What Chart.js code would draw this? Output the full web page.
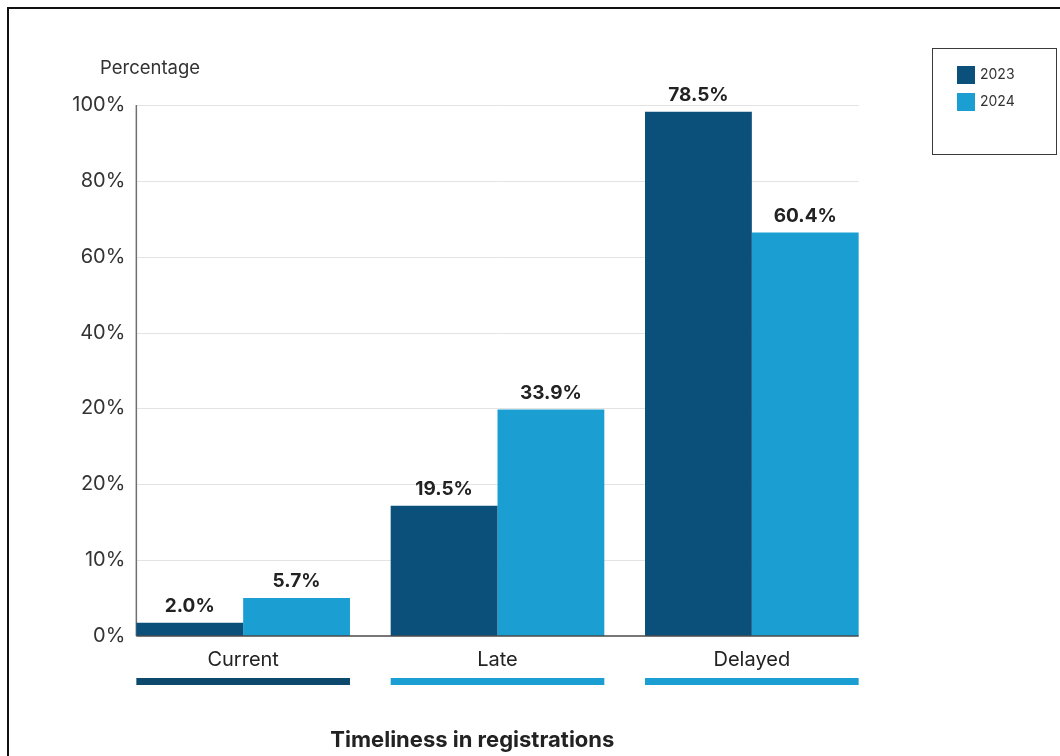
<!DOCTYPE html>
<html>
<head>
<meta charset="utf-8">
<title>Timeliness in registrations</title>
<script src="https://cdn.jsdelivr.net/npm/chart.js@4.4.1/dist/chart.umd.min.js"></script>
<style>
  html, body { margin: 0; padding: 0; background: #ffffff; }
  #wrap { width: 1060px; height: 756px; position: relative; }
  canvas { display: block; }
</style>
</head>
<body>
<div id="wrap"><canvas id="chart" width="1060" height="756"></canvas></div>
<script>
// ---- data ----
const categories = ['Current', 'Late', 'Delayed'];
const seriesNames = ['2023', '2024'];
const values2023 = [2.0, 19.5, 78.5];
const values2024 = [5.7, 33.9, 60.4];
const tickLabels = ['0%', '10%', '20%', '20%', '40%', '60%', '80%', '100%'];
const yAxisTitle = 'Percentage';
const xAxisTitle = 'Timeliness in registrations';

// ---- styling ----
const FONT = 'Inter, "Noto Sans", "DejaVu Sans", sans-serif';
const DARK = '#0b4f7b';
const LIGHT = '#1b9fd3';
const UNDERLINE_COLORS = ['#0d486d', LIGHT, LIGHT];
const Y_MAX = 79.5;

Chart.defaults.font.family = FONT;

// left edge of the first bar and right edge of the last bar in a category
function groupExtent(chart, index) {
  const first = chart.getDatasetMeta(0).data[index];
  const last = chart.getDatasetMeta(chart.data.datasets.length - 1).data[index];
  return [first.x - first.width / 2, last.x + last.width / 2];
}

const decorations = {
  id: 'decorations',
  beforeDraw(chart) {
    const ctx = chart.ctx;
    ctx.save();
    ctx.fillStyle = '#ffffff';
    ctx.fillRect(0, 0, chart.width, chart.height);
    // page frame
    ctx.strokeStyle = '#111111';
    ctx.lineWidth = 2;
    ctx.beginPath();
    ctx.moveTo(8, chart.height);
    ctx.lineTo(8, 8);
    ctx.lineTo(chart.width, 8);
    ctx.stroke();
    ctx.restore();
  },
  beforeDatasetsDraw(chart) {
    const ctx = chart.ctx;
    const y = chart.scales.y;
    const left = groupExtent(chart, 0)[0];
    const right = groupExtent(chart, categories.length - 1)[1];
    ctx.save();
    // horizontal grid lines
    ctx.strokeStyle = '#e3e3e3';
    ctx.lineWidth = 1;
    y.ticks.forEach(t => {
      if (t.value === 0) return;
      const py = Math.round(y.getPixelForValue(t.value)) + 0.5;
      ctx.beginPath();
      ctx.moveTo(left, py);
      ctx.lineTo(right, py);
      ctx.stroke();
    });
    // vertical axis line
    ctx.strokeStyle = '#707070';
    ctx.lineWidth = 1.5;
    ctx.beginPath();
    ctx.moveTo(left, y.getPixelForValue(Y_MAX));
    ctx.lineTo(left, y.getPixelForValue(0));
    ctx.stroke();
    // tick labels, right-aligned next to the axis line
    ctx.fillStyle = '#333333';
    ctx.font = '20px ' + FONT;
    ctx.textAlign = 'right';
    ctx.textBaseline = 'middle';
    y.ticks.forEach((t, i) => {
      ctx.fillText(tickLabels[i], left - 11, y.getPixelForValue(t.value));
    });
    ctx.restore();
  },
  afterDatasetsDraw(chart) {
    const ctx = chart.ctx;
    const area = chart.chartArea;
    const y = chart.scales.y;
    const left = groupExtent(chart, 0)[0];
    const right = groupExtent(chart, categories.length - 1)[1];
    ctx.save();

    // baseline
    ctx.strokeStyle = '#4a4a4a';
    ctx.lineWidth = 1.5;
    ctx.beginPath();
    ctx.moveTo(left, y.getPixelForValue(0));
    ctx.lineTo(right, y.getPixelForValue(0));
    ctx.stroke();

    // value labels above bars
    ctx.fillStyle = '#222222';
    ctx.font = 'bold 19px ' + FONT;
    ctx.textAlign = 'center';
    ctx.textBaseline = 'alphabetic';
    chart.data.datasets.forEach((ds, di) => {
      chart.getDatasetMeta(di).data.forEach((bar, i) => {
        ctx.fillText(ds.data[i].toFixed(1) + '%', bar.x, bar.y - 11);
      });
    });

    // coloured strips under category labels
    categories.forEach((c, i) => {
      const [l, r] = groupExtent(chart, i);
      ctx.fillStyle = UNDERLINE_COLORS[i];
      ctx.fillRect(l, area.bottom + 42, r - l, 7);
    });

    // x axis caption
    ctx.fillStyle = '#222222';
    ctx.font = 'bold 22px ' + FONT;
    ctx.textAlign = 'left';
    ctx.textBaseline = 'middle';
    ctx.fillText(xAxisTitle, left + 194, area.bottom + 104);

    // y axis caption
    ctx.fillStyle = '#333333';
    ctx.font = '18.5px ' + FONT;
    ctx.textAlign = 'left';
    ctx.textBaseline = 'middle';
    ctx.fillText(yAxisTitle, area.left - 16, area.top - 37);

    // legend box
    const bx = chart.width - 127.5, by = 48.5, bw = 124, bh = 106;
    ctx.strokeStyle = '#3a3a3a';
    ctx.lineWidth = 1;
    ctx.strokeRect(bx, by, bw, bh);
    ctx.font = '14px ' + FONT;
    chart.data.datasets.forEach((ds, di) => {
      const sy = 66 + di * 27;
      ctx.fillStyle = ds.backgroundColor;
      ctx.fillRect(bx + 24.5, sy, 18, 18);
      ctx.fillStyle = '#333333';
      ctx.fillText(ds.label, bx + 47.5, sy + 9);
    });
    ctx.restore();
  }
};

new Chart(document.getElementById('chart'), {
  type: 'bar',
  data: {
    labels: categories,
    datasets: [
      { label: seriesNames[0], data: values2023, backgroundColor: DARK },
      { label: seriesNames[1], data: values2024, backgroundColor: LIGHT }
    ]
  },
  options: {
    responsive: false,
    animation: false,
    devicePixelRatio: 1,
    layout: { padding: { top: 105, right: 181, left: 0, bottom: 0 } },
    categoryPercentage: 0.84,
    barPercentage: 1.0,
    plugins: {
      legend: { display: false },
      tooltip: { enabled: false }
    },
    scales: {
      x: {
        grid: { display: false, drawTicks: false },
        border: { display: false },
        ticks: { color: '#222222', font: { size: 20 }, padding: 12 },
        afterFit(scale) { scale.height = 120; }
      },
      y: {
        min: 0,
        max: Y_MAX,
        grid: { display: false, drawTicks: false },
        border: { display: false },
        afterFit(scale) { scale.width = 116; },
        afterBuildTicks(scale) {
          scale.ticks = tickLabels.map((t, i) => ({ value: i * Y_MAX / (tickLabels.length - 1) }));
        },
        ticks: { display: false }
      }
    }
  },
  plugins: [decorations]
});
</script>
</body>
</html>
